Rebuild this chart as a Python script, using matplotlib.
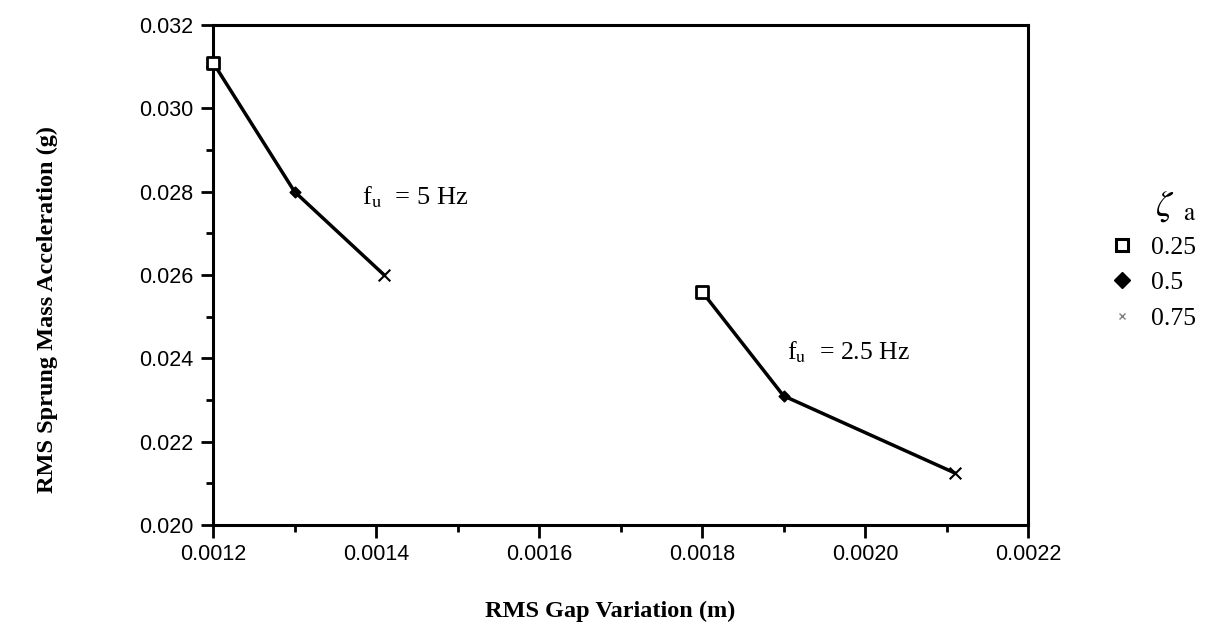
import matplotlib.pyplot as plt
from matplotlib.ticker import MultipleLocator

plt.rcParams["mathtext.fontset"] = "stix"

# dados
zeta = [0.25, 0.5, 0.75]
gap_5hz = [0.0012, 0.0013, 0.00141]
acc_5hz = [0.0311, 0.0280, 0.0260]
gap_25hz = [0.0018, 0.0019, 0.00211]
acc_25hz = [0.0256, 0.0231, 0.02125]

marcadores = [
    {"marker": "s", "s": 75, "facecolors": "white", "edgecolors": "black", "linewidths": 2},
    {"marker": "D", "s": 30, "facecolors": "black", "edgecolors": "black", "linewidths": 1},
    {"marker": "x", "s": 70, "color": "black", "linewidths": 1.5},
]

fig = plt.figure(figsize=(12.09, 6.30), dpi=100)
ax = fig.add_axes([0.1762, 0.1667, 0.6741, 0.7936])

ax.plot(gap_5hz, acc_5hz, color="black", linewidth=2.5, zorder=2)
ax.plot(gap_25hz, acc_25hz, color="black", linewidth=2.5, zorder=2)

for i in range(len(zeta)):
    ax.scatter([gap_5hz[i], gap_25hz[i]], [acc_5hz[i], acc_25hz[i]], zorder=3,
               clip_on=False, **marcadores[i])

ax.set_xlim(0.0012, 0.0022)
ax.set_ylim(0.020, 0.032)
ax.xaxis.set_major_locator(MultipleLocator(0.0002))
ax.xaxis.set_minor_locator(MultipleLocator(0.0001))
ax.yaxis.set_major_locator(MultipleLocator(0.002))
ax.yaxis.set_minor_locator(MultipleLocator(0.001))
ax.xaxis.set_major_formatter(lambda v, p: "%.4f" % v)
ax.yaxis.set_major_formatter(lambda v, p: "%.3f" % v)

for lado in ["top", "bottom", "left", "right"]:
    ax.spines[lado].set_linewidth(2.2)
ax.tick_params(which="both", direction="out", width=2, top=False, right=False)
ax.tick_params(which="major", length=9, labelsize=15.5, pad=5)
ax.tick_params(which="minor", length=5)
for t in ax.get_xticklabels() + ax.get_yticklabels():
    t.set_family("Liberation Sans")

serif = "Liberation Serif"
ax.text(0.001383, 0.02787, r"f$_{\mathrm{u}}$  = 5 Hz", fontsize=19,
        family=serif, va="center")
ax.text(0.001904, 0.02415, r"f$_{\mathrm{u}}$  = 2.5 Hz", fontsize=18.5,
        family=serif, va="center")

fig.text(0.505, 0.029, "RMS Gap Variation (m)", fontsize=17.5, fontweight="bold",
         family=serif, ha="center", va="center")
fig.text(0.039, 0.508, "RMS Sprung Mass Acceleration (g)", fontsize=17.5,
         fontweight="bold", family=serif, rotation=90, ha="center", va="center")

# legenda
handles = []
for i in range(len(zeta)):
    handles.append(plt.Line2D([], [], linestyle="none", color="black",
                              marker=marcadores[i]["marker"], markersize=8,
                              markerfacecolor="white" if i == 0 else "black",
                              markeredgewidth=2.2 if i == 0 else 1))
handles[2].set_color("gray")
handles[2].set_markersize(5)
leg = fig.legend(handles, [str(z) for z in zeta], loc="upper left",
                 bbox_to_anchor=(0.9173, 0.70), frameon=False,
                 prop={"family": serif, "size": 18.5}, handlelength=1.0,
                 handletextpad=0.65, labelspacing=0.47, borderpad=0,
                 borderaxespad=0, title=r"$\zeta$ $_{\mathrm{a}}$",
                 title_fontsize=26, alignment="right")

fig.savefig("out.png", dpi=100)
